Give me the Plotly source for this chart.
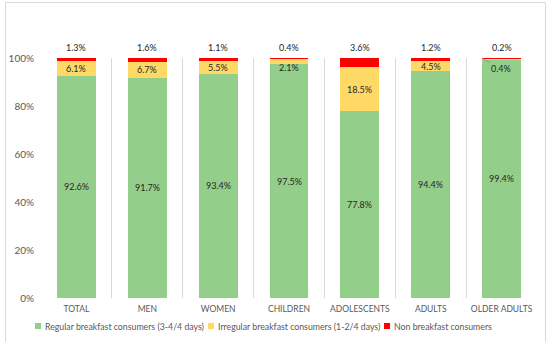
import plotly.graph_objects as go

categories = ["TOTAL", "MEN", "WOMEN", "CHILDREN", "ADOLESCENTS", "ADULTS", "OLDER ADULTS"]
regular = [92.6, 91.7, 93.4, 97.5, 77.8, 94.4, 99.4]
irregular = [6.1, 6.7, 5.5, 2.1, 18.5, 4.5, 0.4]
non = [1.3, 1.6, 1.1, 0.4, 3.6, 1.2, 0.2]

names = ["Regular breakfast consumers (3-4/4 days)",
         "Irregular breakfast consumers (1-2/4 days)",
         "Non breakfast consumers"]
colors = ["#93CF8A", "#FFD966", "#FF0000"]

FONT = "Lato"
TXT = "#262626"
GRAY = "#595959"

# plot area in pixels
L, R, T, B = 41, 537, 58, 298
W, H = R - L, B - T


def px(x):
    return (x - L) / W


def py(y):
    return (B - y) / H


fig = go.Figure()
for vals, name, col in zip([regular, irregular, non], names, colors):
    fig.add_trace(go.Bar(x=categories, y=[v / 100 for v in vals], name=name,
                         marker=dict(color=col, line=dict(width=0)),
                         hoverinfo="skip", showlegend=False))

ann = []
for i, c in enumerate(categories):
    r, ir, n = regular[i] / 100, irregular[i] / 100, non[i] / 100
    ann.append(dict(x=c, y=r / 2, text=f"{regular[i]:.1f}%", showarrow=False))
    if irregular[i] >= 4:
        ann.append(dict(x=c, y=r + ir / 2, text=f"{irregular[i]:.1f}%", showarrow=False))
    elif irregular[i] > 1:
        ann.append(dict(x=c, y=r + ir, text=f"{irregular[i]:.1f}%", showarrow=False,
                        yanchor="top", yshift=-1))
    else:
        ann.append(dict(x=i - 0.275, y=r + ir, text=f"{irregular[i]:.1f}%",
                        showarrow=True, arrowhead=0, arrowwidth=0.8,
                        arrowcolor="#8C8C8C", ax=19, ay=10, standoff=0))
    ann.append(dict(x=c, y=1.0, text=f"{non[i]:.1f}%", showarrow=False,
                    yanchor="bottom", yshift=3))
for a in ann:
    a["font"] = dict(family=FONT, size=9, color=TXT)
    a["xref"] = "x"
    a["yref"] = "y"

# legend (drawn manually to match compact layout)
leg_text_x = [43, 216, 392]
leg_box_x = [35, 208, 384]
leg_y = 326
shapes = [dict(type="rect", xref="paper", yref="paper",
               x0=px(5.5), x1=px(545.5), y0=py(345), y1=py(2.5),
               line=dict(color="#D9D9D9", width=1), layer="above")]
for tx, bx, name, col in zip(leg_text_x, leg_box_x, names, colors):
    shapes.append(dict(type="rect", xref="paper", yref="paper",
                       x0=px(bx), x1=px(bx + 6), y0=py(leg_y + 3), y1=py(leg_y - 3),
                       fillcolor=col, line=dict(width=0)))
    ann.append(dict(xref="paper", yref="paper", x=px(tx), y=py(leg_y),
                    xanchor="left", yanchor="middle", text=name, showarrow=False,
                    font=dict(family=FONT, size=8.75, color=GRAY)))

fig.update_layout(
    width=550, height=342,
    margin=dict(l=L, r=550 - R, t=T, b=342 - B, autoexpand=False),
    barmode="stack",
    bargap=0.45,
    paper_bgcolor="white",
    plot_bgcolor="white",
    font=dict(family=FONT, size=10, color=GRAY),
    annotations=ann,
    shapes=shapes,
    showlegend=False,
    xaxis=dict(type="category", tickson="boundaries", showgrid=True,
               gridcolor="#D9D9D9", gridwidth=1, ticks="", showline=False,
               tickfont=dict(family=FONT, size=8.5, color=GRAY), zeroline=False,
               ticklabelstandoff=4),
    yaxis=dict(range=[0, 1], tickvals=[0, 0.2, 0.4, 0.6, 0.8, 1.0],
               ticktext=["0%", "20%", "40%", "60%", "80%", "100%"],
               showgrid=False, zeroline=False, showline=False, ticks="",
               tickfont=dict(family=FONT, size=10, color=GRAY),
               ticklabelstandoff=6),
)

fig.write_html("out.html", config={"displayModeBar": False},
               post_script="document.body.style.margin='0';document.body.style.overflow='hidden';")
